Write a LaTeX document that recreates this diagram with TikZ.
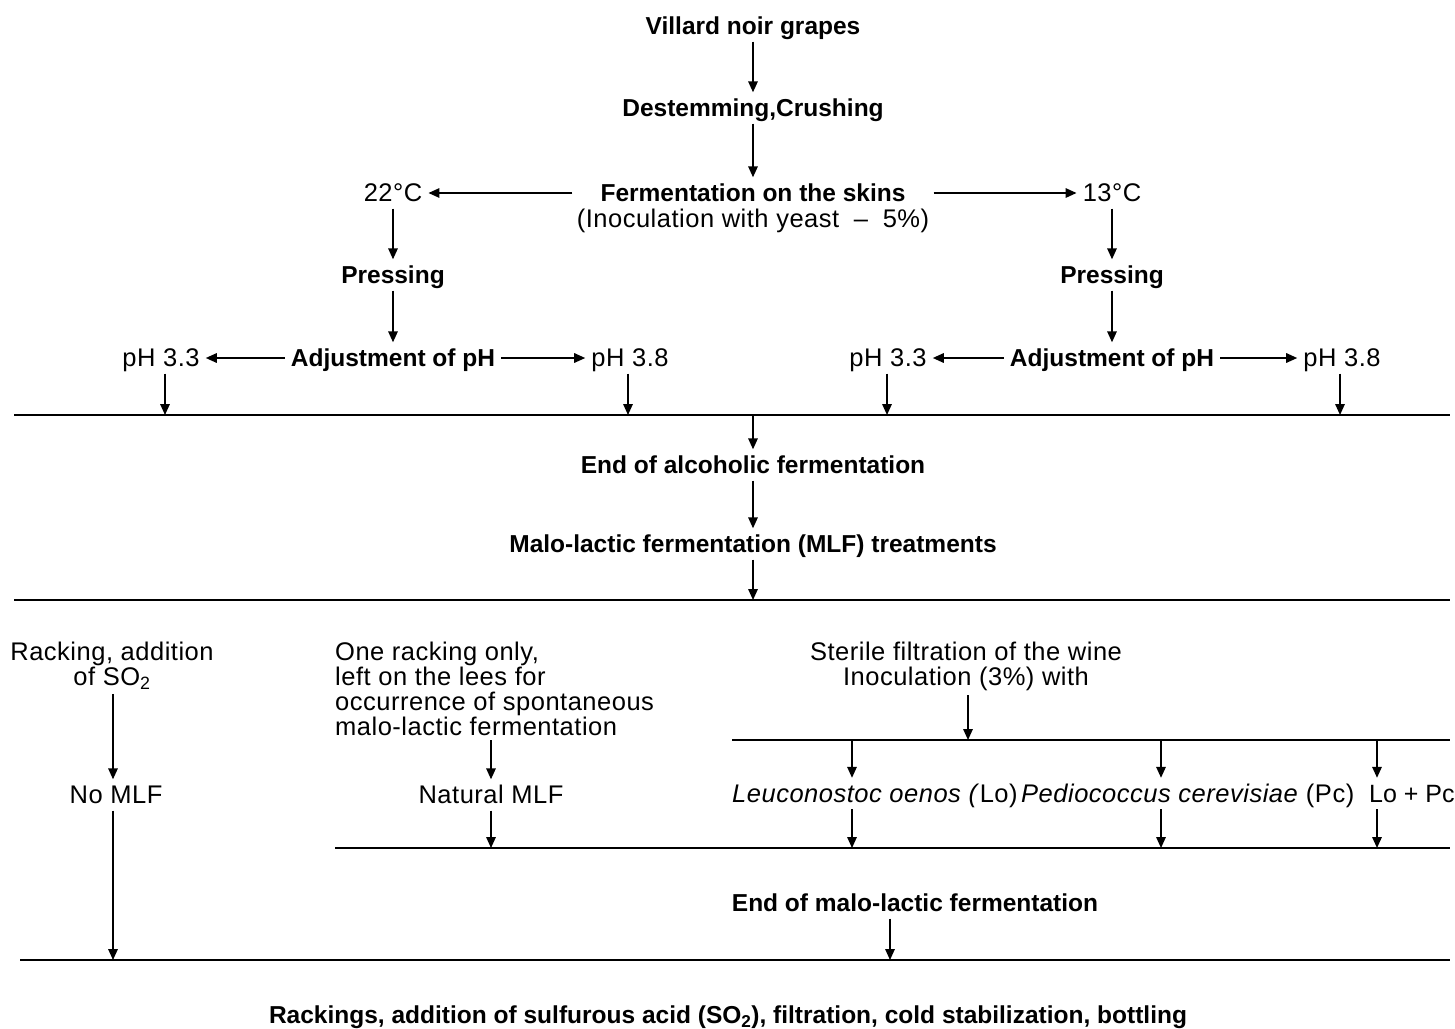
\documentclass[tikz,border=0pt]{standalone}
\usepackage{fontspec}
\setmainfont{Liberation Sans}
\newfontfamily\regfont[LetterSpace=2.0]{Liberation Sans}
\usetikzlibrary{arrows.meta}
\begin{document}
\begin{tikzpicture}[x=1pt,y=-1pt,
  bt/.style={font=\fontsize{24.5}{25}\selectfont\bfseries, inner xsep=6pt, inner ysep=4pt, text height=20pt, text depth=3pt},
  rt/.style={font=\regfont\fontsize{25.5}{25}\selectfont, inner xsep=6pt, inner ysep=4pt, text height=20pt, text depth=3pt},
  rm/.style={font=\regfont\fontsize{25.5}{25}\selectfont, inner xsep=6pt, inner ysep=4pt},
  sp/.style={rt, inner xsep=2pt, anchor=base west},
  arr/.style={line width=1.6pt, -{Triangle[length=11pt,width=9.5pt]}},
  hl/.style={line width=1.8pt}]
\useasboundingbox (0,0) rectangle (1455,1028);
% top chain
\node[bt] (vil) at (753,26) {Villard noir grapes};
\node[bt] (des) at (753,108) {Destemming,Crushing};
\node[bt] (fer) at (753,193) {Fermentation on the skins};
\node[rt] (ino) at (753,219) {(Inoculation with yeast \;–\; 5\%)};
\node[rt] (t22) at (393,193) {22°C};
\node[rt] (t13) at (1112,193) {13°C};
\draw[arr] (vil) -- (des);
\draw[arr] (des) -- (fer);
\draw[arr, shorten <=22pt] (fer) -- (t22);
\draw[arr, shorten <=22pt] (fer) -- (t13);
% left branch
\node[bt] (pr1) at (393,275) {Pressing};
\node[bt] (ad1) at (393,358) {Adjustment of pH};
\node[rt] (pa1) at (161,358) {pH 3.3};
\node[rt] (pa2) at (630,358) {pH 3.8};
\draw[arr] (t22) -- (pr1);
\draw[arr] (pr1) -- (ad1);
\draw[arr] (ad1) -- (pa1);
\draw[arr] (ad1) -- (pa2);
% right branch
\node[bt] (pr2) at (1112,275) {Pressing};
\node[bt] (ad2) at (1112,358) {Adjustment of pH};
\node[rt] (pb1) at (888,358) {pH 3.3};
\node[rt] (pb2) at (1342,358) {pH 3.8};
\draw[arr] (t13) -- (pr2);
\draw[arr] (pr2) -- (ad2);
\draw[arr] (ad2) -- (pb1);
\draw[arr] (ad2) -- (pb2);
% line 1
\coordinate (L1a) at (14,415);
\coordinate (L1b) at (1450,415);
\draw[hl] (L1a) -- (L1b);
\coordinate (d1) at (165,415);
\coordinate (d2) at (628,415);
\coordinate (d3) at (887,415);
\coordinate (d4) at (1340,415);
\draw[arr] (d1 |- pa1.south) -- (d1);
\draw[arr] (d2 |- pa2.south) -- (d2);
\draw[arr] (d3 |- pb1.south) -- (d3);
\draw[arr] (d4 |- pb2.south) -- (d4);
\node[bt] (alc) at (753,465) {End of alcoholic fermentation};
\node[bt] (mlf) at (753,544) {Malo-lactic fermentation (MLF) treatments};
\draw[arr] (alc |- L1a) -- (alc);
\draw[arr] (alc) -- (mlf);
% line 2
\coordinate (L2a) at (14,600);
\coordinate (L2b) at (1450,600);
\draw[hl] (L2a) -- (L2b);
\draw[arr] (mlf) -- (mlf |- L2a);
% treatments
\node[rm, align=center, anchor=north] (rack) at (112,638) {Racking, addition\\of SO\textsubscript{2}};
\node[rt] (nomlf) at (116,795) {No MLF};
\node[rm, align=left, anchor=north west] (one) at (329,638) {One racking only,\\left on the lees for\\occurrence of spontaneous\\malo-lactic fermentation};
\node[rt] (nat) at (491,795) {Natural MLF};
\node[rm, align=center, anchor=north] (ster) at (966,638) {Sterile filtration of the wine\\Inoculation (3\%) with};
\coordinate (c0) at (113,960);
\draw[arr] (c0 |- rack.south) -- (c0 |- nomlf.north);
\draw[arr] (nat |- one.south) -- (nat);
% line 3
\coordinate (L3a) at (732,740);
\coordinate (L3b) at (1450,740);
\draw[hl] (L3a) -- (L3b);
\coordinate (s1) at (968,740);
\draw[arr] (s1 |- ster.south) -- (s1);
\node[sp] (lo) at (730,802) {\textit{Leuconostoc oenos (}Lo)};
\node[sp] (pc) at (1019,802) {\textit{Pediococcus cerevisiae} (Pc)};
\node[sp, font=\fontsize{25}{25}\selectfont] (lopc) at (1367,802) {Lo + Pc};
\coordinate (a1) at (852,740);
\coordinate (a2) at (1161,740);
\coordinate (a3) at (1377,740);
\draw[arr] (a1) -- (a1 |- lo.north);
\draw[arr] (a2) -- (a2 |- pc.north);
\draw[arr] (a3) -- (a3 |- lopc.north);
% line 4
\coordinate (L4a) at (335,848);
\coordinate (L4b) at (1450,848);
\draw[hl] (L4a) -- (L4b);
\draw[arr] (a1 |- lo.south) -- (a1 |- L4a);
\draw[arr] (a2 |- pc.south) -- (a2 |- L4a);
\draw[arr] (a3 |- lopc.south) -- (a3 |- L4a);
\draw[arr] (nat) -- (nat |- L4a);
\node[bt] (endm) at (915,903) {End of malo-lactic fermentation};
% line 5
\coordinate (L5a) at (20,960);
\coordinate (L5b) at (1450,960);
\draw[hl] (L5a) -- (L5b);
\coordinate (b1) at (890,960);
\draw[arr] (b1 |- endm.south) -- (b1);
\draw[arr] (c0 |- nomlf.south) -- (c0);
\node[bt] (fin) at (728,1015) {Rackings, addition of sulfurous acid (SO\textsubscript{2}), filtration, cold stabilization, bottling};
\end{tikzpicture}
\end{document}
